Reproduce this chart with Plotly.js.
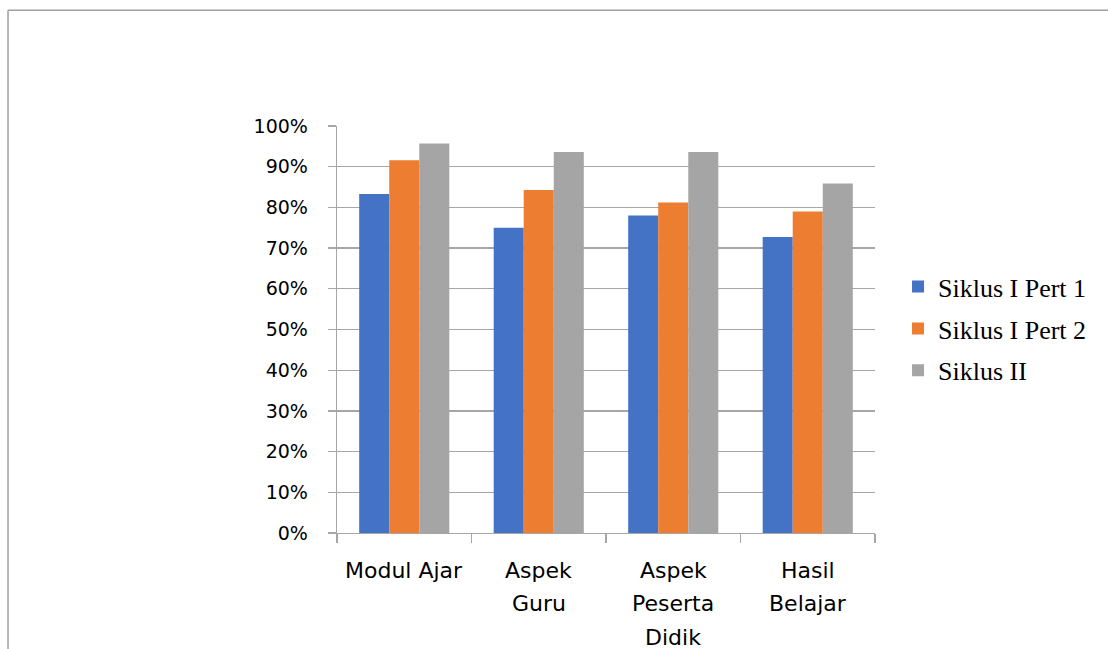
<!DOCTYPE html>
<html>
<head>
<meta charset="utf-8">
<script src="https://cdn.plot.ly/plotly-3.0.1.min.js"></script>
<style>html,body{margin:0;padding:0;background:#fff;}#chart{width:1108px;height:649px;}</style>
</head>
<body>
<div id="chart"></div>
<script>
const categories = ["Modul Ajar", "Aspek Guru", "Aspek Peserta Didik", "Hasil Belajar"];
const categoryLabels = [["Modul Ajar"], ["Aspek", "Guru"], ["Aspek", "Peserta", "Didik"], ["Hasil", "Belajar"]];
const seriesNames = ["Siklus I Pert 1", "Siklus I Pert 2", "Siklus II"];
const siklus1Pert1 = [0.833, 0.75, 0.78, 0.727];
const siklus1Pert2 = [0.916, 0.843, 0.812, 0.79];
const siklus2 = [0.957, 0.936, 0.936, 0.859];
const yTickValues = [0, 0.1, 0.2, 0.3, 0.4, 0.5, 0.6, 0.7, 0.8, 0.9, 1.0];
const yTickLabels = ["0%", "10%", "20%", "30%", "40%", "50%", "60%", "70%", "80%", "90%", "100%"];

const colors = ["#4472c4", "#ed7d31", "#a5a5a5"];
const allSeries = [siklus1Pert1, siklus1Pert2, siklus2];

const traces = allSeries.map((vals, i) => ({
  type: "bar",
  name: seriesNames[i],
  x: categories,
  y: vals,
  marker: {color: colors[i], line: {width: 0}},
  legendgroup: "g" + i,
  hoverinfo: "none"
}));

const annotations = [];
categoryLabels.forEach((lines, ci) => {
  lines.forEach((line, li) => {
    annotations.push({
      x: categories[ci], xref: "x", y: 0, yref: "paper",
      text: line, showarrow: false,
      yanchor: "middle", xanchor: "center",
      yshift: -(37 + li * 33.5),
      font: {family: "DejaVu Sans", size: 22, color: "#000"}
    });
  });
});

const layout = {
  width: 1108, height: 649,
  margin: {l: 337, r: 233, t: 126, b: 115.5, pad: 0},
  paper_bgcolor: "#fff", plot_bgcolor: "#fff",
  barmode: "group", bargap: 0.33, bargroupgap: 0,
  showlegend: true,
  legend: {
    x: 1.0428, xanchor: "left", y: 0.502, yanchor: "middle",
    font: {family: "Liberation Serif", size: 26, color: "#000"},
    traceorder: "grouped", tracegroupgap: 5, itemwidth: 30,
    bgcolor: "rgba(0,0,0,0)"
  },
  xaxis: {
    type: "category",
    showticklabels: false,
    showline: true, linecolor: "#a6a6a6", linewidth: 1.3,
    ticks: "outside", ticklen: 9, tickcolor: "#a6a6a6", tickwidth: 1.3,
    tickson: "boundaries",
    showgrid: false, zeroline: false,
    fixedrange: true
  },
  yaxis: {
    range: [0, 1.0],
    tickvals: yTickValues, ticktext: yTickLabels,
    showline: true, linecolor: "#a6a6a6", linewidth: 1.3,
    ticks: "outside", ticklen: 8, tickcolor: "#a6a6a6", tickwidth: 1.3,
    showgrid: true, gridcolor: "#a6a6a6", gridwidth: 1.3,
    zeroline: false,
    ticklabelstandoff: 16,
    tickfont: {family: "DejaVu Sans", size: 19, color: "#000"},
    fixedrange: true
  },
  annotations: annotations,
  shapes: [
    {type: "line", xref: "paper", yref: "paper", x0: -0.6115, x1: 1.45, y0: 1.2847, y1: 1.2847, line: {color: "#a0a0a0", width: 1.5}},
    {type: "line", xref: "paper", yref: "paper", x0: -0.6115, x1: -0.6115, y0: 1.2847, y1: -0.3, line: {color: "#a0a0a0", width: 1.5}}
  ]
};

Plotly.newPlot("chart", traces, layout, {displayModeBar: false, staticPlot: true});
</script>
</body>
</html>
